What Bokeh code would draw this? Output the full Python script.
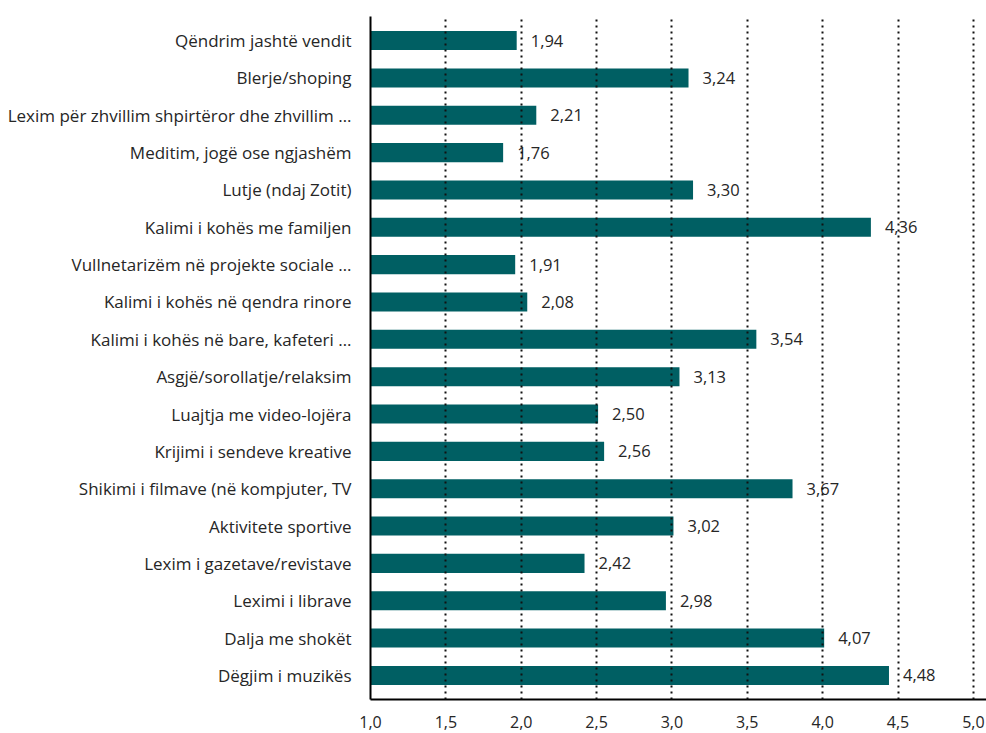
from bokeh.plotting import figure
from bokeh.models import ColumnDataSource, FactorRange, Range1d, FixedTicker, CustomJSTickFormatter
from bokeh.core.properties import value
from bokeh.embed import file_html
from bokeh.resources import INLINE

categories = [
    "Qëndrim jashtë vendit",
    "Blerje/shoping",
    "Lexim për zhvillim shpirtëror dhe zhvillim …",
    "Meditim, jogë ose ngjashëm",
    "Lutje (ndaj Zotit)",
    "Kalimi i kohës me familjen",
    "Vullnetarizëm në projekte sociale …",
    "Kalimi i kohës në qendra rinore",
    "Kalimi i kohës në bare, kafeteri …",
    "Asgjë/sorollatje/relaksim",
    "Luajtja me video-lojëra",
    "Krijimi i sendeve kreative",
    "Shikimi i filmave (në kompjuter, TV",
    "Aktivitete sportive",
    "Lexim i gazetave/revistave",
    "Leximi i librave",
    "Dalja me shokët",
    "Dëgjim i muzikës",
]
# bar lengths as drawn in the picture
bar_values = [1.97, 3.11, 2.10, 1.88, 3.14, 4.32, 1.96, 2.04, 3.56, 3.05,
              2.51, 2.55, 3.80, 3.01, 2.42, 2.96, 4.01, 4.44]
# value labels as printed in the picture
value_labels = ["1,94", "3,24", "2,21", "1,76", "3,30", "4,36", "1,91", "2,08", "3,54",
                "3,13", "2,50", "2,56", "3,67", "3,02", "2,42", "2,98", "4,07", "4,48"]
x_ticks = [1.0, 1.5, 2.0, 2.5, 3.0, 3.5, 4.0, 4.5, 5.0]

BAR = "#005f63"
TXT = "#262626"
FONT = "Open Sans"

src = ColumnDataSource(dict(cat=categories, val=bar_values, lbl=value_labels))

yr = FactorRange(factors=list(reversed(categories)), range_padding=0.145,
                 range_padding_units="absolute")
p = figure(width=986, height=733, y_range=yr, x_range=Range1d(1.0, 5.087),
           output_backend="svg", toolbar_location=None,
           min_border_left=370, min_border_top=16, min_border_bottom=34, min_border_right=0)

p.hbar(y="cat", left=1.0, right="val", height=0.51, source=src,
       fill_color=BAR, line_color=None)
p.text(x="val", y="cat", text="lbl", source=src, x_offset=14,
       text_baseline="middle", text_align="left",
       text_font=value(FONT), text_font_size="16.5px", text_color=TXT)

p.outline_line_color = None
p.ygrid.grid_line_color = None
p.xgrid.ticker = FixedTicker(ticks=x_ticks[1:])
p.xgrid.grid_line_color = "#111111"
p.xgrid.grid_line_dash = "2 4"
p.xgrid.grid_line_width = 2
p.xgrid.level = "overlay"

p.xaxis.ticker = FixedTicker(ticks=x_ticks)
p.xaxis.formatter = CustomJSTickFormatter(code="return tick.toFixed(1).replace('.', ',');")
p.xaxis.axis_line_color = "black"
p.xaxis.axis_line_width = 2
p.xaxis.major_tick_line_color = None
p.xaxis.minor_tick_line_color = None
p.xaxis.major_label_standoff = 10
p.xaxis.major_label_text_font = FONT
p.xaxis.major_label_text_font_size = "16px"
p.xaxis.major_label_text_color = TXT

p.yaxis.axis_line_color = "black"
p.yaxis.axis_line_width = 2
p.yaxis.major_tick_line_color = None
p.yaxis.minor_tick_line_color = None
p.yaxis.major_label_standoff = 13
p.yaxis.major_label_text_font = FONT
p.yaxis.major_label_text_font_size = "17px"
p.yaxis.major_label_text_color = TXT

open("out.html", "w").write(file_html(p, INLINE))
